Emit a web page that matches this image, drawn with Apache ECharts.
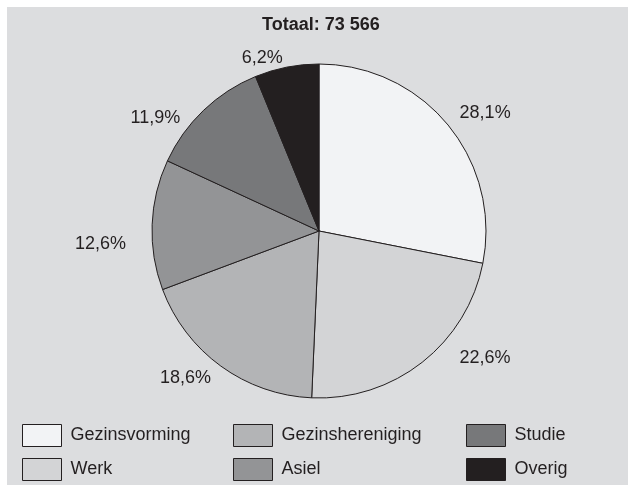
<!DOCTYPE html>
<html>
<head>
<meta charset="utf-8">
<script src="https://cdn.jsdelivr.net/npm/echarts@6/dist/echarts.min.js"></script>
<style>
  html, body { margin: 0; padding: 0; background: #fff; }
  #chart { width: 628px; height: 485px; }
</style>
</head>
<body>
<div id="chart"></div>
<script>
// gegevens
var categories = ["Gezinsvorming", "Werk", "Gezinshereniging", "Asiel", "Studie", "Overig"];
var shares = [28.1, 22.6, 18.6, 12.6, 11.9, 6.2];
var sliceColors = ["#f2f3f5", "#d3d4d6", "#b3b4b6", "#939496", "#77787a", "#231f20"];
var titleText = "Totaal: 73 566";

var fontFamily = "'Liberation Sans', Arial, Helvetica, sans-serif";
var ink = "#231f20";

// kleine verschuiving van de percentages, zoals in het origineel
var labelNudge = {
  "Gezinsvorming": [-13, -2],
  "Werk": [15, -16],
  "Gezinshereniging": [12, 0],
  "Asiel": [2, 20],
  "Studie": [0, 19],
  "Overig": [12, 6]
};

var pieData = [];
for (var i = 0; i < categories.length; i++) {
  pieData.push({
    name: categories[i],
    value: shares[i],
    itemStyle: { color: sliceColors[i] },
    label: { offset: labelNudge[categories[i]] }
  });
}

// legenda in drie kolommen van twee
function legendColumn(left, names) {
  return {
    left: left,
    top: 424,
    padding: 0,
    orient: "vertical",
    icon: "rect",
    itemWidth: 39,
    itemHeight: 22,
    itemGap: 11,
    selectedMode: false,
    data: names,
    itemStyle: { borderColor: ink, borderWidth: 1 },
    textStyle: {
      fontFamily: fontFamily,
      fontSize: 18,
      color: ink,
      padding: [6, 0, 0, 4]
    }
  };
}

var chart = echarts.init(document.getElementById("chart"));
chart.setOption({
  backgroundColor: "#ffffff",
  animation: false,
  graphic: [{
    type: "rect",
    z: -10,
    shape: { x: 7, y: 7, width: 640, height: 500 },
    style: { fill: "#dcdddf" }
  }],
  title: {
    text: titleText,
    left: 262,
    top: 16,
    padding: 0,
    textStyle: {
      fontFamily: fontFamily,
      fontSize: 18,
      fontWeight: "bold",
      color: ink
    }
  },
  legend: [
    legendColumn(22, [categories[0], categories[1]]),
    legendColumn(233, [categories[2], categories[3]]),
    legendColumn(466, [categories[4], categories[5]])
  ],
  series: [{
    type: "pie",
    center: [319, 231],
    radius: 167,
    startAngle: 90,
    clockwise: true,
    avoidLabelOverlap: false,
    data: pieData,
    itemStyle: { borderColor: ink, borderWidth: 1 },
    emphasis: { disabled: true },
    label: {
      show: true,
      position: "outside",
      fontFamily: fontFamily,
      fontSize: 18,
      color: ink,
      formatter: function (p) {
        return p.value.toFixed(1).replace(".", ",") + "%";
      }
    },
    labelLine: { show: false, length: 15, length2: 8 }
  }]
});
</script>
</body>
</html>
